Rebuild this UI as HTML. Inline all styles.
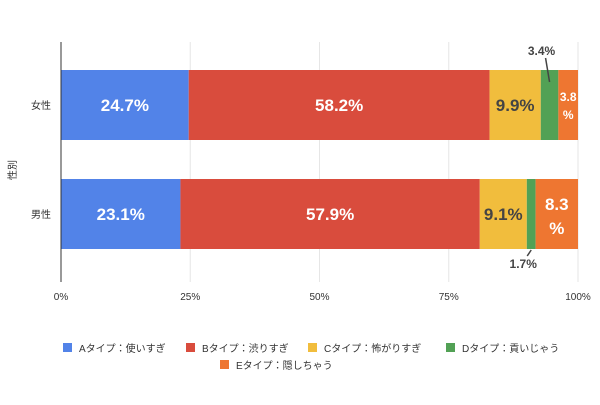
<!DOCTYPE html>
<html><head><meta charset="utf-8"><style>
body{margin:0;background:#fff;width:600px;height:400px;overflow:hidden;font-family:"Liberation Sans","Noto Sans CJK JP",sans-serif}
</style></head><body>
<svg id="chart" width="600" height="400" xmlns="http://www.w3.org/2000/svg" font-family="Liberation Sans, Noto Sans CJK JP, sans-serif"></svg>
<script>
const categories = ['女性','男性'];
const seriesNames = ['Aタイプ：使いすぎ','Bタイプ：渋りすぎ','Cタイプ：怖がりすぎ','Dタイプ：貢いじゃう','Eタイプ：隠しちゃう'];
const seriesA = [24.7, 23.1];
const seriesB = [58.2, 57.9];
const seriesC = [9.9, 9.1];
const seriesD = [3.4, 1.7];
const seriesE = [3.8, 8.3];
const tickValues = [0,25,50,75,100];
const tickLabels = ['0%','25%','50%','75%','100%'];
const colors = ['#5283e8','#d94c3d','#f1bd3d','#52a155','#ee7631'];
const svg = document.getElementById('chart');
const NS='http://www.w3.org/2000/svg';
function mk(t,a,p){const e=document.createElementNS(NS,t);for(const k in a)e.setAttribute(k,a[k]);(p||svg).appendChild(e);return e;}
const x0=61,x1=578;
const xs=v=>x0+(x1-x0)*v/100;
const barTop=[70,179], barH=70;
// gridlines
tickValues.forEach((v,i)=>{
  if(v>0){const g=mk('line',{x1:xs(v),x2:xs(v),y1:42,y2:282,stroke:'#e6e6e6','stroke-width':1});
  
  }
  const t=mk('text',{x:xs(v),y:300,'text-anchor':'middle','font-size':10,fill:'#333'});
  t.textContent=tickLabels[i];
  
  
});
const all=[seriesA,seriesB,seriesC,seriesD,seriesE];
categories.forEach((c,ci)=>{
  let acc=0;
  all.forEach((s,si)=>{
    const v=s[ci];const a=xs(acc);const b=Math.min(xs(acc+v),x1);
    const r=mk('rect',{x:a,y:barTop[ci],width:Math.max(0,b-a),height:barH,fill:colors[si]});
    
    
    const cx=(a+b)/2, cy=barTop[ci]+barH/2;
    const lbl=v.toFixed(1)+'%';
    const fill=si==2?'#444':'#fff';
    if(v>=5 && v<9.5 && si==4 || (si==4 && v<5)){
      // two-line label
      const fs=v<5?12:17;
      const t1=mk('text',{x:cx,y:cy-4,'text-anchor':'middle','font-size':fs,'font-weight':'bold',fill:'#fff'});
      t1.textContent=v.toFixed(1);
      
      
      const t2=mk('text',{x:cx,y:cy+(v<5?14:20),'text-anchor':'middle','font-size':fs,'font-weight':'bold',fill:'#fff'});
      t2.textContent='%';
      
      
    } else if(v<5){
      // callout
      const up=ci==0;
      const ly=up?55:268;
      const lx=cx-8;
      const ln=mk('line',{x1:cx,y1:up?barTop[ci]+12:barTop[ci]+barH+1,x2:lx+4,y2:up?ly+3:ly-12,stroke:'#444','stroke-width':1.5});
      
      
      const t=mk('text',{x:lx,y:ly,'text-anchor':'middle','font-size':12,'font-weight':'bold',fill:'#444'});
      t.textContent=lbl;
      
      
    } else {
      const t=mk('text',{x:cx,y:cy+6,'text-anchor':'middle','font-size':17,'font-weight':'bold',fill:fill});
      t.textContent=lbl;
      
      
    }
    acc+=v;
  });
  const ct=mk('text',{x:51,y:barTop[ci]+barH/2+4,'text-anchor':'end','font-size':10,fill:'#333'});
  ct.textContent=c;
  
  
});
const ax=mk('line',{x1:x0,x2:x0,y1:42,y2:282,stroke:'#333','stroke-width':1});


const yt=mk('text',{x:16,y:170,'text-anchor':'middle','font-size':10,fill:'#333',transform:'rotate(-90 16 170)'});
yt.textContent='性別';


// legend
const legPos=[[63,352],[186,352],[308,352],[446,352],[220,369]];
seriesNames.forEach((n,i)=>{
  const [lx,ly]=legPos[i];
  const r=mk('rect',{x:lx,y:ly-9,width:9,height:9,fill:colors[i]});
  
  
  const t=mk('text',{x:lx+16,y:ly,'font-size':10,fill:'#333'});
  t.textContent=n;
  
  
});
</script>
</body></html>
